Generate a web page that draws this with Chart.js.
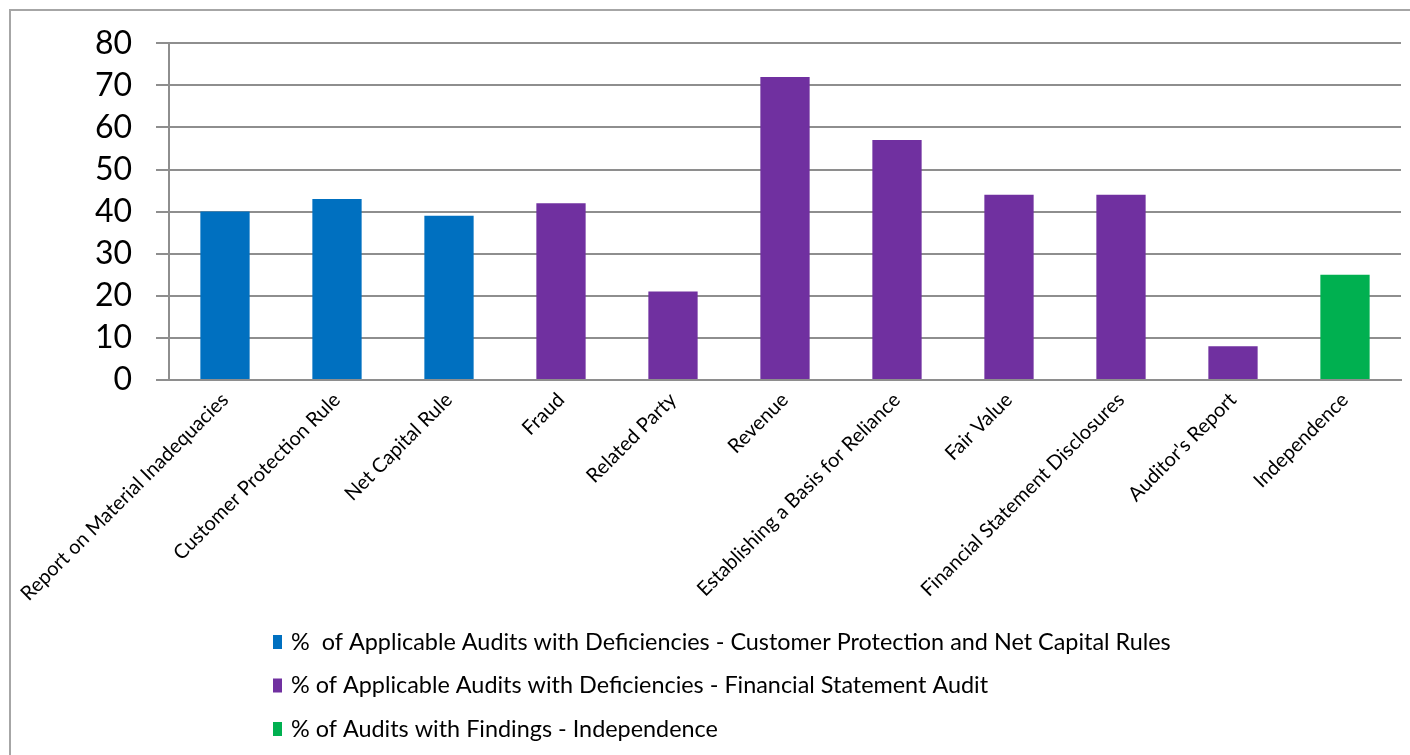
<!DOCTYPE html>
<html>
<head>
<meta charset="utf-8">
<script src="https://cdn.jsdelivr.net/npm/chart.js@4.4.1/dist/chart.umd.min.js"></script>
<style>
  html, body { margin: 0; padding: 0; background: #fff; overflow: hidden; }
  #wrap { position: relative; width: 1410px; height: 755px; }
  #frame { position: absolute; left: 9px; top: 9px; width: 1420px; height: 770px; border: 2px solid #a6a6a6; box-sizing: border-box; }
  canvas { position: absolute; left: 0; top: 0; }
</style>
</head>
<body>
<div id="wrap">
  <div id="frame"></div>
  <canvas id="myChart" width="1410" height="755"></canvas>
</div>
<script>
// Categorías del eje X
const categories = [
  'Report on Material Inadequacies',
  'Customer Protection Rule',
  'Net Capital Rule',
  'Fraud',
  'Related Party',
  'Revenue',
  'Establishing a Basis for Reliance',
  'Fair Value',
  'Financial Statement Disclosures',
  "Auditor's Report",
  'Independence'
];

// Series (null donde la serie no tiene barra)
const brokerRules = [40, 43, 39, null, null, null, null, null, null, null, null];
const financialAudit = [null, null, null, 42, 21, 72, 57, 44, 44, 8, null];
const independence = [null, null, null, null, null, null, null, null, null, null, 25];

const seriesNames = [
  '%  of Applicable Audits with Deficiencies - Customer Protection and Net Capital Rules',
  '% of Applicable Audits with Deficiencies - Financial Statement Audit',
  '% of Audits with Findings - Independence'
];
const seriesColors = ['#0070C0', '#7030A0', '#00B050'];

const yTicks = [0, 10, 20, 30, 40, 50, 60, 70, 80];

const FONT = 'Lato, Carlito, Calibri, sans-serif';

// Leyenda vertical dibujada debajo del eje
const legendPlugin = {
  id: 'verticalLegend',
  afterDraw(chart) {
    const ctx = chart.ctx;
    ctx.save();
    ctx.font = '23.4px ' + FONT;
    ctx.textBaseline = 'middle';
    chart.data.datasets.forEach((ds, i) => {
      const y = 642 + i * 43.5;
      ctx.fillStyle = ds.backgroundColor;
      ctx.fillRect(273, y - 7, 9, 14);
      ctx.fillStyle = '#000';
      ctx.fillText(ds.label, 291, y);
    });
    ctx.restore();
  }
};

const ctx = document.getElementById('myChart').getContext('2d');
const datasets = [brokerRules, financialAudit, independence].map((data, i) => ({
  label: seriesNames[i],
  data: data,
  backgroundColor: seriesColors[i],
  borderWidth: 0,
  grouped: false,
  barPercentage: 0.44,
  categoryPercentage: 1
}));

new Chart(ctx, {
  type: 'bar',
  data: { labels: categories, datasets: datasets },
  options: {
    responsive: false,
    animation: false,
    layout: { padding: { left: 0, right: 9, top: 43, bottom: 0 } },
    plugins: { legend: { display: false }, tooltip: { enabled: false } },
    scales: {
      x: {
        grid: { display: false, drawTicks: false },
        border: { display: true, color: '#8e8e8e', width: 2 },
        ticks: {
          color: '#000',
          font: { family: FONT, size: 20 },
          minRotation: 45,
          maxRotation: 45,
          autoSkip: false,
          padding: 8
        },
        afterFit(scale) { scale.height = 375; }
      },
      y: {
        min: 0,
        max: 80,
        afterBuildTicks(scale) { scale.ticks = yTicks.map(v => ({ value: v })); },
        grid: { color: '#8e8e8e', lineWidth: 2, tickLength: 13, drawTicks: true },
        border: { display: true, color: '#8e8e8e', width: 2 },
        ticks: {
          color: '#000',
          font: { family: FONT, size: 32 },
          padding: 24
        },
        afterFit(scale) { scale.width = 169; }
      }
    }
  },
  plugins: [legendPlugin]
});
</script>
</body>
</html>
